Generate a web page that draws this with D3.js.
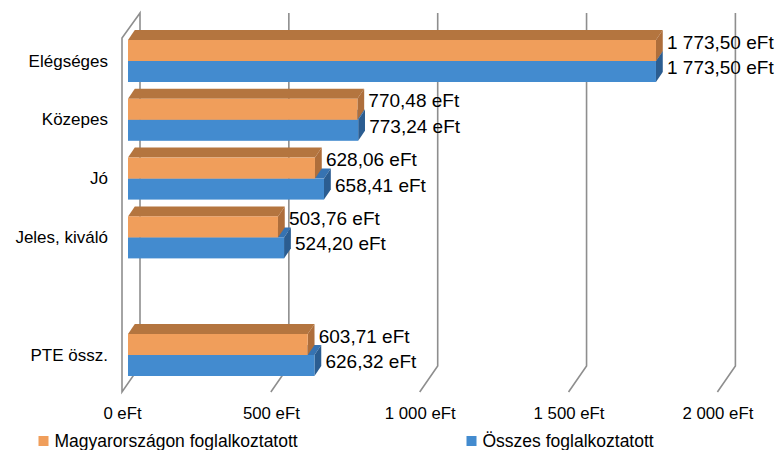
<!DOCTYPE html>
<html>
<head>
<meta charset="utf-8">
<script src="https://cdn.jsdelivr.net/npm/d3@7/dist/d3.min.js"></script>
<style>
  html, body { margin: 0; padding: 0; background: #fff; }
  svg { display: block; }
  text { font-family: "Liberation Sans", Arial, sans-serif; fill: #000; }
</style>
</head>
<body>
<svg id="chart" width="777" height="450"></svg>
<script>
// ---- data ----
const categories = ["Elégséges", "Közepes", "Jó", "Jeles, kiváló", "", "PTE össz."];
const seriesNames = ["Magyarországon foglalkoztatott", "Összes foglalkoztatott"];
const magyarValues = [1773.50, 770.48, 628.06, 503.76, null, 603.71];
const osszesValues = [1773.50, 773.24, 658.41, 524.20, null, 626.32];
const tickValues = [0, 500, 1000, 1500, 2000];
const tickLabels = ["0 eFt", "500 eFt", "1 000 eFt", "1 500 eFt", "2 000 eFt"];

const colors = {
  front: ["#F09E5B", "#438BCF"],
  top:   ["#B4753F", "#3673B2"],
  side:  ["#AE6E3B", "#2B5D91"]
};

const hu = d3.formatLocale({decimal: ",", thousands: " ", grouping: [3], currency: ["", ""]});
const fmt = v => hu.format(",.2f")(v) + " eFt";

const svg = d3.select("#chart");

// ---- scales ----
const x = d3.scaleLinear().domain([0, 2000]).range([0, 595.4]);
const y = d3.scaleBand().domain(categories).range([31.6, 384.4])
  .paddingInner(0.286).paddingOuter(0.143);
const ySub = d3.scaleBand().domain(seriesNames).range([0, y.bandwidth()]);

// 3D geometry
const frontX0 = 122, backX0 = 140, barX0 = 128;
const wallTop = 13, backFloor = 366, frontFloor = 392;
const bdx = 6.8, bdy = -10;

// ---- walls / gridlines ----
const grid = svg.append("g");
grid.append("path")
  .attr("d", `M${frontX0},${frontFloor} V${wallTop + 25} L${backX0},${wallTop} V${backFloor} Z`)
  .attr("fill", "#fff").attr("stroke", "#8E8E8E").attr("stroke-width", 1.6);
grid.selectAll("path.g").data(tickValues.slice(1)).join("path")
  .attr("class", "g")
  .attr("d", d => `M${backX0 + x(d)},${wallTop} V${backFloor} L${frontX0 + x(d)},${frontFloor}`)
  .attr("fill", "none").attr("stroke", "#8E8E8E").attr("stroke-width", 1.6);

// ---- bars ----
const rows = [];
categories.forEach((c, i) => {
  // draw lower series first so upper one overlaps
  [[1, osszesValues[i]], [0, magyarValues[i]]].forEach(([s, v]) => {
    if (v == null) return;
    rows.push({cat: c, s, v});
  });
});

const bars = svg.append("g");
rows.forEach(r => {
  const y0 = y(r.cat) + ySub(seriesNames[r.s]);
  const h = ySub.bandwidth();
  const x0 = barX0, x1 = barX0 + x(r.v);
  const g = bars.append("g");
  g.append("path")
    .attr("d", `M${x0},${y0} L${x0 + bdx},${y0 + bdy} L${x1 + bdx},${y0 + bdy} L${x1},${y0} Z`)
    .attr("fill", colors.top[r.s]);
  g.append("path")
    .attr("d", `M${x1},${y0} L${x1 + bdx},${y0 + bdy} L${x1 + bdx},${y0 + h + bdy} L${x1},${y0 + h} Z`)
    .attr("fill", colors.side[r.s]);
  g.append("rect")
    .attr("x", x0).attr("y", y0).attr("width", x1 - x0).attr("height", h)
    .attr("fill", colors.front[r.s]);
});

// ---- value labels ----
svg.append("g").selectAll("text").data(rows).join("text")
  .attr("x", d => barX0 + x(d.v) + 11)
  .attr("y", d => y(d.cat) + ySub(seriesNames[d.s]) + ySub.bandwidth() / 2 + (d.s === 0 ? -8.5 : -4))
  .attr("dominant-baseline", "central")
  .style("font-size", "19px")
  .text(d => fmt(d.v));

// ---- category labels ----
svg.append("g").selectAll("text").data(categories.filter(c => c !== "")).join("text")
  .attr("x", 108)
  .attr("y", d => y(d) + y.bandwidth() / 2)
  .attr("text-anchor", "end")
  .attr("dominant-baseline", "central")
  .style("font-size", "17px")
  .text(d => d);

// ---- x axis (front floor) ----
const xFront = d3.scaleLinear().domain([0, 2000]).range([frontX0, frontX0 + 595.4]);
const axis = d3.axisBottom(xFront).tickValues(tickValues)
  .tickFormat((d, i) => tickLabels[i]).tickSize(0).tickPadding(0);
const ax = svg.append("g").attr("transform", "translate(0,407)").call(axis);
ax.select(".domain").remove();
ax.selectAll("text").style("font-size", "16.8px")
  .style("font-family", '"Liberation Sans", Arial, sans-serif').attr("fill", "#000");

// ---- legend ----
const legendX = [38.5, 466.5];
const leg = svg.append("g").selectAll("g").data(seriesNames).join("g")
  .attr("transform", (d, i) => `translate(${legendX[i]},436)`);
leg.append("rect").attr("width", 10).attr("height", 10).attr("fill", (d, i) => colors.front[i]);
leg.append("text").attr("x", 16).attr("y", 5).attr("dominant-baseline", "central")
  .style("font-size", "17.5px").text(d => d);
</script>
</body>
</html>
